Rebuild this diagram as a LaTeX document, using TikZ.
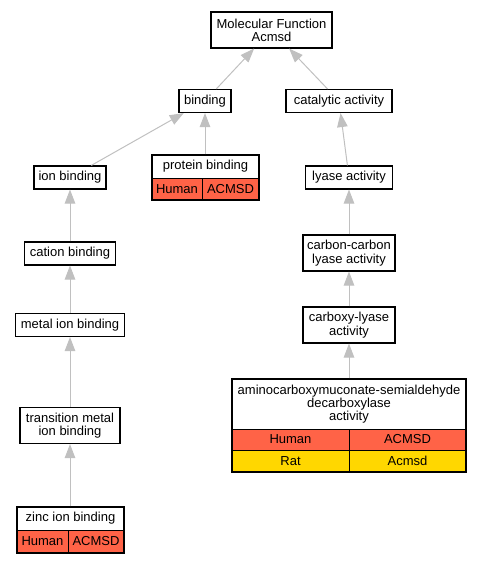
\documentclass[tikz,border=0pt]{standalone}
\usepackage{fontspec}
\setmainfont{Liberation Sans}
\usetikzlibrary{arrows.meta}
\definecolor{human}{HTML}{FF6347}
\definecolor{rat}{HTML}{FFD700}
\definecolor{edgegray}{HTML}{C0C0C0}
\tikzset{
  txt/.style={font=\fontsize{13}{13.3}\selectfont, align=center, inner sep=0pt},
  box/.style={txt, draw=black, line width=1.1pt, fill=white, rectangle},
  outer/.style={draw=black, line width=1.1pt, rectangle, inner sep=0pt},
  cell/.style={txt, draw=black, line width=0.9pt, rectangle},
  edge/.style={draw=edgegray, line width=1pt, -{Triangle[length=14pt, width=10.5pt, fill=edgegray]}},
}
\begin{document}
\begin{tikzpicture}[x=1pt, y=-1pt]
\useasboundingbox (0,0) rectangle (480,563);

% plain nodes
\node[box, minimum width=121pt, minimum height=36pt] (mf) at (271.5,30) {Molecular Function\\Acmsd};
\node[box, minimum width=52pt, minimum height=23pt] (bind) at (205,101) {binding};
\node[box, minimum width=106pt, minimum height=23pt] (cat) at (339,101) {catalytic activity};
\node[box, minimum width=72pt, minimum height=23pt] (ion) at (70,177.5) {ion binding};
\node[box, minimum width=87pt, minimum height=23pt] (lyase) at (349,177.5) {lyase activity};
\node[box, minimum width=91pt, minimum height=23pt] (cation) at (70,253.5) {cation binding};
\node[box, minimum width=92pt, minimum height=36pt] (cc) at (349,253) {carbon-carbon\\lyase activity};
\node[box, minimum width=109pt, minimum height=23pt] (metal) at (70,325) {metal ion binding};
\node[box, minimum width=92pt, minimum height=36pt] (carboxy) at (349,325) {carboxy-lyase\\activity};
\node[box, minimum width=100pt, minimum height=36pt] (trans) at (70,425.5) {transition metal\\ion binding};

% protein binding table
\node[cell, fill=white, minimum width=107pt, minimum height=23pt] (pbh) at (205.5,166.5) {protein binding};
\node[cell, fill=human, minimum width=50pt, minimum height=22pt] (pbc1) at (177,189) {Human};
\node[cell, fill=human, minimum width=57pt, minimum height=22pt] (pbc2) at (230.5,189) {ACMSD};
\node[outer, minimum width=107pt, minimum height=45pt] (pb) at (205.5,177.5) {};

% zinc ion binding table
\node[cell, fill=white, minimum width=107pt, minimum height=23pt] (znh) at (70.5,518.5) {zinc ion binding};
\node[cell, fill=human, minimum width=51pt, minimum height=23pt] (znc1) at (42.5,541.5) {Human};
\node[cell, fill=human, minimum width=56pt, minimum height=23pt] (znc2) at (96,541.5) {ACMSD};
\node[outer, minimum width=107pt, minimum height=46pt] (zn) at (70.5,530) {};

% aminocarboxymuconate table
\node[cell, fill=white, minimum width=234pt, minimum height=50pt] (ach) at (349,404) {aminocarboxymuconate-semialdehyde\\decarboxylase\\activity};
\node[cell, fill=human, minimum width=117pt, minimum height=21pt] (acc1) at (290.5,439.5) {Human};
\node[cell, fill=human, minimum width=117pt, minimum height=21pt] (acc2) at (407.5,439.5) {ACMSD};
\node[cell, fill=rat, minimum width=117pt, minimum height=22pt] (acc3) at (290.5,461) {Rat};
\node[cell, fill=rat, minimum width=117pt, minimum height=22pt] (acc4) at (407.5,461) {Acmsd};
\node[outer, minimum width=234pt, minimum height=93pt] (ac) at (349,425.5) {};

% edges
\draw[edge] (bind) -- (mf);
\draw[edge] (cat) -- (mf);
\draw[edge] (ion) -- (bind);
\draw[edge] (pb.north -| bind) -- (bind);
\draw[edge] (lyase) -- (cat);
\draw[edge] (cation) -- (ion);
\draw[edge] (metal) -- (cation);
\draw[edge] (trans) -- (metal);
\draw[edge] (zn.north -| trans) -- (trans);
\draw[edge] (cc) -- (lyase);
\draw[edge] (carboxy) -- (cc);
\draw[edge] (ac) -- (carboxy);
\end{tikzpicture}
\end{document}
